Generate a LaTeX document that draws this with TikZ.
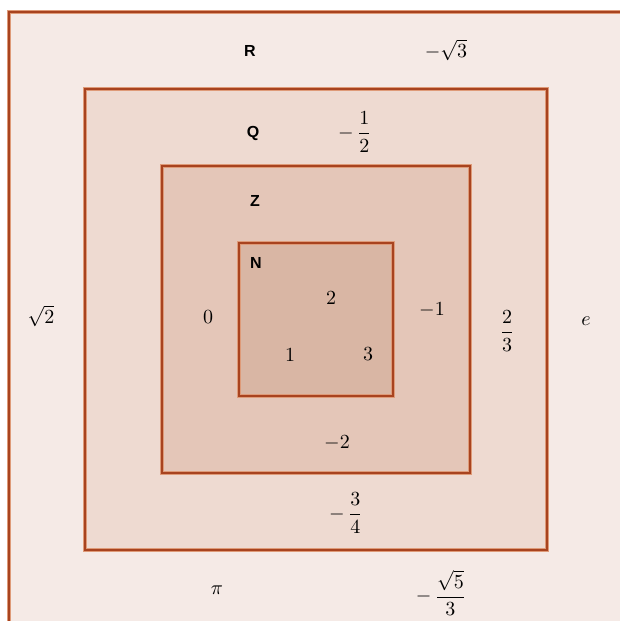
\documentclass[tikz,border=0pt]{standalone}
\usepackage{amsmath}
\usepackage{fontspec}
\newfontfamily\setfont{Liberation Sans}
\definecolor{setline}{HTML}{A8431F}
\definecolor{setglow}{HTML}{DE9A78}
\definecolor{fillR}{HTML}{F5EAE6}
\definecolor{fillQ}{HTML}{EEDAD1}
\definecolor{fillZ}{HTML}{E4C6B8}
\definecolor{fillN}{HTML}{D9B6A4}
\tikzset{
  setname/.style={font=\setfont\bfseries\footnotesize},
  elem/.style={font=\normalsize, inner sep=0pt}
}
\begin{document}
\begin{tikzpicture}[x=0.5pt,y=-0.5pt]
        \useasboundingbox (0,0) rectangle (620,621);
        \clip (0,0) rectangle (620,621);
        \fill[white] (0,0) rectangle (620,621);
        % Nested sets, outermost first
        \foreach \l/\t/\r/\b/\c in {9/12/660/660/fillR, 85/89/547/550/fillQ,
                                    162/166/470/473/fillZ, 239/243/393/396/fillN} {
          \filldraw[fill=\c, draw=setglow, line width=1.6pt] (\l,\t) rectangle (\r,\b);
          \draw[setline, line width=0.8pt] (\l,\t) rectangle (\r,\b);
        }
        % Set names
        \node[setname] (nameR) at (250,51) {R};
        \node[setname] (nameQ) at (253,133) {Q};
        \node[setname] (nameZ) at (255,201) {Z};
        \node[setname] (nameN) at (256,263) {N};
        % Elements of N
        \node[elem] (two) at (331,298) {$2$};
        \node[elem] (one) at (290,355) {$1$};
        \node[elem] (three) at (368,354) {$3$};
        % Elements of Z
        \node[elem] (zero) at (208,317) {$0$};
        \node[elem] (mone) at (432,310) {$-1$};
        \node[elem] (mtwo) at (337,443) {$-2$};
        % Elements of Q
        \node[elem] (mhalf) at (355,132) {$-\,\dfrac{1}{2}$};
        \node[elem] (twothirds) at (507,331) {$\dfrac{2}{3}$};
        \node[elem] (mthreeq) at (346,513) {$-\,\dfrac{3}{4}$};
        % Elements of R
        \node[elem] (msqrtthree) at (446,50) {$-\sqrt{3}$};
        \node[elem] (sqrttwo) at (41,316) {$\sqrt{2}$};
        \node[elem] (euler) at (586,321) {$e$};
        \node[elem] (pinode) at (217,590) {$\pi$};
        \node[elem] (msqrtfive) at (441,593) {$-\,\dfrac{\sqrt{5}}{3}$};
      \end{tikzpicture}
\end{document}
